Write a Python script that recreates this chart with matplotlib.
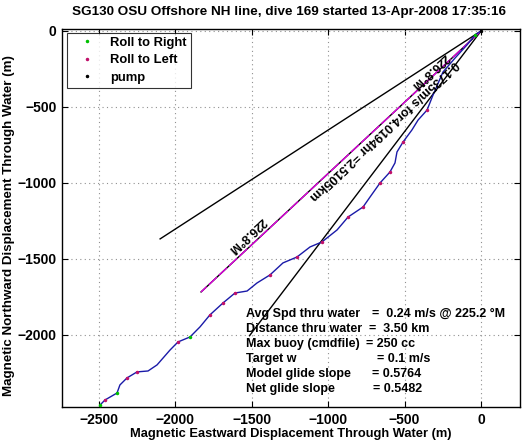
import matplotlib
matplotlib.use("Agg")
import matplotlib.pyplot as plt
import numpy as np

plt.rcParams['font.family'] = ['Liberation Sans', 'DejaVu Sans']

title = "SG130 OSU Offshore NH line, dive 169 started 13-Apr-2008 17:35:16"

# glider track (m)
track_x = [0, -39, -92, -170, -249, -314, -353, -412, -452, -510, -550, -563, -596, -661,
           -726, -772, -870, -942, -1041, -1119, -1204, -1296, -1381, -1466, -1531, -1610,
           -1688, -1774, -1839, -1904, -1983, -2035, -2120, -2179, -2251, -2317, -2363,
           -2382, -2461, -2493]
track_y = [0, -26, -92, -178, -270, -421, -520, -586, -651, -730, -796, -868, -928, -1000,
           -1092, -1158, -1224, -1309, -1388, -1421, -1487, -1526, -1605, -1658, -1711, -1724,
           -1789, -1868, -1947, -2013, -2046, -2099, -2197, -2237, -2243, -2283, -2329,
           -2382, -2428, -2461]

# roll markers
roll_right_x = [-39, -2382, -2493, -1904]
roll_right_y = [-26, -2382, -2461, -2013]
roll_left_x = [-353, -510, -596, -661, -772, -870, -1041, -1204, -1381, -1610, -1688,
               -1774, -1983, -2251, -2317, -2461]
roll_left_y = [-520, -730, -928, -1000, -1158, -1224, -1388, -1487, -1605, -1724, -1789,
               -1868, -2046, -2243, -2283, -2428]
pump_x = [0]
pump_y = [0]

# reference lines (end points, m)
upper_line_x = [0, -2100]
upper_line_y = [0, -1368]
lower_line_x = [0, -1515]
lower_line_y = [0, -2005]
current_x = [0, -1832]
current_y = [0, -1717]

heading_label = "226.8\u00b0M"
current_label = "0.1735m/s for4.0194hr =2.5105km"

info_left = ["Avg Spd thru water", "Distance thru water", "Max buoy (cmdfile)",
             "Target w", "Model glide slope", "Net glide slope"]
info_right = ["=  0.24 m/s @ 225.2 \u00b0M", "=  3.50 km", "= 250 cc",
              "= 0.1 m/s", "= 0.5764", "= 0.5482"]
info_eq_px = [372, 369, 366, 377, 372, 373]

xticks = [-2500, -2000, -1500, -1000, -500, 0]
yticks = [-2000, -1500, -1000, -500, 0]

W, H = 528, 442
fig = plt.figure(figsize=(W / 100, H / 100), dpi=100)
ax = fig.add_axes([62 / W, 1 - 407 / H, (520 - 62) / W, (407 - 29) / H])

ax.plot(track_x, track_y, color='#1a1aa8', lw=1.0, zorder=3)
ax.plot(roll_right_x, roll_right_y, '.', color='#00c000', ms=3, zorder=4, label='Roll to Right')
ax.plot(roll_left_x, roll_left_y, '.', color='#c0106a', ms=3, zorder=4, label='Roll to Left')
ax.plot(pump_x, pump_y, '.', color='black', ms=3, zorder=4, label='pump')

ax.plot(upper_line_x, upper_line_y, color='black', lw=1.0, zorder=2)
ax.plot(lower_line_x, lower_line_y, color='black', lw=1.0, zorder=2)
ax.plot(current_x, current_y, color='black', lw=1.0, zorder=2)
ax.plot(current_x, current_y, color='#e000e0', lw=1.0, dashes=(8, 2), zorder=2)

tkw = dict(fontsize=9, fontweight='bold', rotation=223, rotation_mode='anchor',
           ha='center', va='center', zorder=5)
ax.text(-1531, -1342, heading_label, **tkw)
ax.text(-334, -262, heading_label, **tkw)
ax.text(-641, -651, current_label, **tkw)

ax.set_xlim(-2742, 255)
ax.set_ylim(-2474, 13)
ax.set_xticks(xticks)
ax.set_yticks(yticks)
ax.set_xticklabels(["\u2212" + str(-v) if v < 0 else str(v) for v in xticks])
ax.set_yticklabels(["\u2212" + str(-v) if v < 0 else str(v) for v in yticks])
ax.tick_params(direction='in', top=True, right=True, length=4, labelsize=10, pad=4)
for lab in ax.get_xticklabels() + ax.get_yticklabels():
    lab.set_fontweight('bold')
ax.grid(True, linestyle=(0, (1, 3)), color='#909090', lw=0.8)
for s in ax.spines.values():
    s.set_linewidth(1.0)

ax.set_xlabel("Magnetic Eastward Displacement Through Water (m)", fontsize=9.3,
              fontweight='bold', labelpad=1)
ax.set_ylabel("Magnetic Northward Displacement Through Water (m)", fontsize=9.6,
              fontweight='bold')
ax.yaxis.set_label_coords((15 - 62) / 458, (407 - 226) / 378)
fig.text(289 / W, 1 - 12 / H, title, fontsize=9.7, fontweight='bold', ha='center', va='center')

leg = ax.legend(loc='upper left', bbox_to_anchor=(5 / 458, 1 - 4 / 378),
                prop={'weight': 'bold', 'size': 9.4}, frameon=True, fancybox=False,
                edgecolor='black', handlelength=2.4, borderaxespad=0, markerscale=1.0,
                labelspacing=0.4, borderpad=0.3, handletextpad=0.6)
leg.get_frame().set_linewidth(0.8)

ys = [314, 329, 344, 359, 374, 389]
for left, right, ex, py in zip(info_left, info_right, info_eq_px, ys):
    fig.text(246 / W, 1 - py / H, left, fontsize=9, fontweight='bold', va='center', ha='left')
    fig.text(ex / W, 1 - py / H, right, fontsize=9, fontweight='bold', va='center', ha='left')

fig.savefig("out.png", dpi=100)
